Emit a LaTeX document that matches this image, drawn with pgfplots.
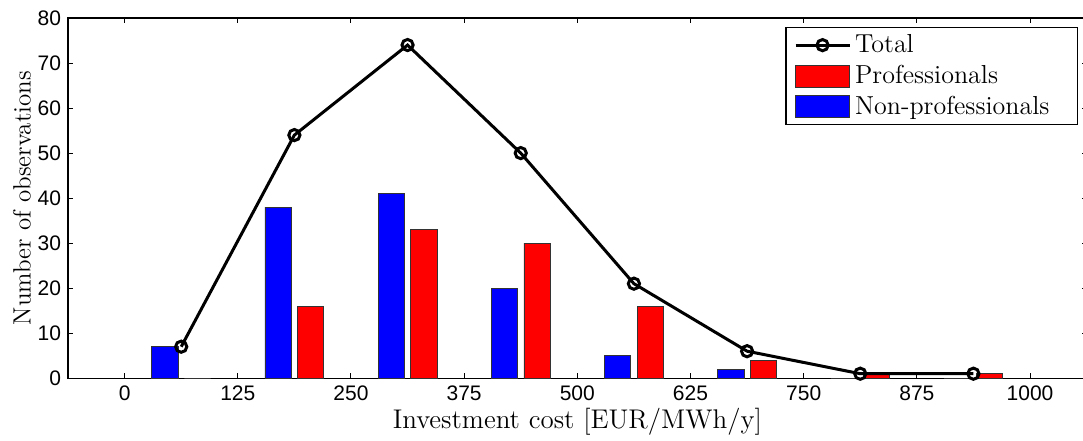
\documentclass[border=0pt]{standalone}
\usepackage{fontspec}
\usepackage{pgfplots}
\pgfplotsset{compat=1.18}
\newfontfamily\ticksf{Liberation Sans}
\pgfplotsset{
  lineleg/.style={legend image code/.code={\draw[mark repeat=2, mark phase=2, ##1] plot coordinates {(0pt,0pt) (13.5pt,0pt) (27pt,0pt)};}},
  blueleg/.style={legend image code/.code={\draw[fill=blue, draw=black!80, line width=0.4pt] (0pt,-5.5pt) rectangle (27pt,5.5pt);}},
  redleg/.style={legend image code/.code={\draw[fill=red, draw=black!80, line width=0.4pt] (0pt,-5.5pt) rectangle (27pt,5.5pt);}},
}
\begin{document}
\begin{tikzpicture}
\begin{axis}[
  scale only axis,
  width=509pt, height=180pt,
  xmin=-62.5, xmax=1062.5,
  ymin=0, ymax=80,
  xtick={0,125,250,375,500,625,750,875,1000},
  ytick={0,10,20,30,40,50,60,70,80},
  tick align=inside,
  tick pos=both,
  major tick length=2.5pt,
  tick style={black, line width=0.5pt},
  axis line style={line width=0.6pt},
  /pgf/number format/assume math mode=true,
  /pgf/number format/1000 sep={},
  ticklabel style={font=\ticksf\fontsize{10.5}{12}\selectfont},
  xticklabel style={yshift=-0.5pt},
  yticklabel style={xshift=0pt},
  xlabel={Investment cost [EUR/MWh/y]},
  ylabel={Number of observations},
  xlabel style={font=\fontsize{13.5}{15}\selectfont, yshift=3.5pt},
  ylabel style={font=\fontsize{12.5}{14}\selectfont, yshift=-3.5pt},
  reverse legend,
  legend style={at={(rel axis cs:1,1)}, anchor=north east, xshift=-4.3pt, yshift=-4.5pt,
    font=\fontsize{13}{15.5}\selectfont, draw=black, line width=0.6pt,
    inner xsep=4pt, inner ysep=1.5pt, row sep=0.8pt, cells={anchor=west}},
]
\addplot[ybar, bar width=29, bar shift=-18, fill=blue, draw=black!80, line width=0.4pt, blueleg]
  coordinates {(62.5,7) (187.5,38) (312.5,41) (437.5,20) (562.5,5) (687.5,2) (812.5,0) (937.5,0)};
\addlegendentry{Non-professionals\rule{8pt}{0pt}}
\addplot[ybar, bar width=29, bar shift=18, fill=red, draw=black!80, line width=0.4pt, redleg]
  coordinates {(62.5,0) (187.5,16) (312.5,33) (437.5,30) (562.5,16) (687.5,4) (812.5,1) (937.5,1)};
\addlegendentry{Professionals}
\addplot[black, line width=1.5pt, mark=o, mark size=2.8pt, mark options={fill=white, line width=1.5pt}, lineleg]
  coordinates {(62.5,7) (187.5,54) (312.5,74) (437.5,50) (562.5,21) (687.5,6) (812.5,1) (937.5,1)};
\addlegendentry{Total}
\end{axis}
\pgfresetboundingbox
\useasboundingbox (-34pt,-31pt) rectangle (507.2pt,189pt);
\end{tikzpicture}
\end{document}
